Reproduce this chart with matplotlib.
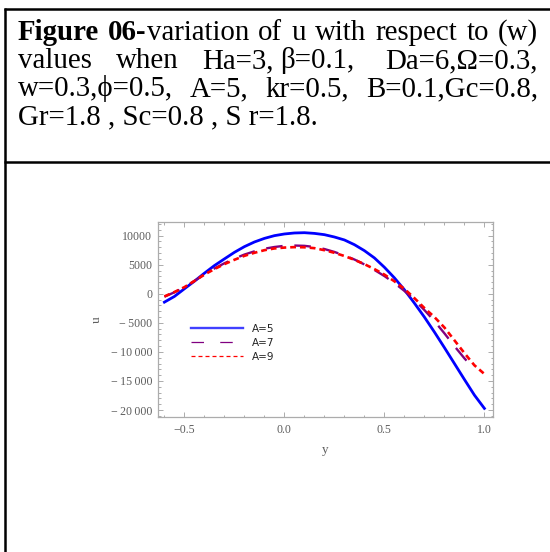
import matplotlib
matplotlib.use('Agg')
import matplotlib.pyplot as plt
from matplotlib.lines import Line2D
from matplotlib.ticker import MultipleLocator, FixedLocator, FixedFormatter

# ---------------- data ----------------
y_vals = [-0.6, -0.55, -0.5, -0.45, -0.4, -0.35, -0.3, -0.25, -0.2, -0.15, -0.1, -0.05,
          0.0, 0.05, 0.1, 0.15, 0.2, 0.25, 0.3, 0.35, 0.4, 0.45, 0.5, 0.55, 0.6, 0.65,
          0.7, 0.75, 0.8, 0.85, 0.9, 0.95, 1.0]
u_A5 = [-1440, -460, 860, 2160, 3540, 4850, 6000, 7130, 8110, 8910, 9530, 10000,
        10290, 10460, 10510, 10390, 10170, 9770, 9260, 8450, 7420, 6170, 4560, 2740, 690, -1610,
        -4010, -6580, -9260, -12000, -14740, -17430, -19720]
# A=7 curve is visible only up to y ~ 0.94
y_vals_A7 = [-0.6, -0.55, -0.5, -0.45, -0.4, -0.35, -0.3, -0.25, -0.2, -0.15, -0.1, -0.05,
             0.0, 0.05, 0.1, 0.15, 0.2, 0.25, 0.3, 0.35, 0.4, 0.45, 0.5, 0.55, 0.6, 0.65,
             0.7, 0.75, 0.8, 0.85, 0.9, 0.94]
u_A7 = [-500, 250, 1100, 2200, 3350, 4350, 5250, 6050, 6750, 7300, 7750, 8050,
        8250, 8300, 8250, 8050, 7700, 7200, 6600, 5900, 5050, 4100, 3050, 1850, 500, -1050,
        -2800, -4700, -6800, -9000, -11100, -12600]
u_A9 = [-460, 300, 1140, 2200, 3300, 4250, 5100, 5850, 6530, 7050, 7500, 7800,
        7950, 8030, 8000, 7850, 7500, 7050, 6500, 5850, 5100, 4250, 3300, 2150, 850, -750,
        -2450, -4000, -5800, -8000, -10200, -12300, -13800]
series_labels = ['A=5', 'A=7', 'A=9']
x_ticks = [-0.5, 0.0, 0.5, 1.0]
x_tick_labels = ['\u22120.5', '0.0', '0.5', '1.0']
y_ticks = [10000, 5000, 0, -5000, -10000, -15000, -20000]
y_tick_labels = ['10000', '5000', '0', '\u2212\u20095000', '\u2212\u200910\u2009000',
                 '\u2212\u200915\u2009000', '\u2212\u200920\u2009000']

caption_lines = [
    [[('Figure', 'bold')], [('06-', 'bold'), ('variation', 'normal')], [('of', 'normal')],
     [('u', 'normal')], [('with', 'normal')], [('respect', 'normal')], [('to', 'normal')],
     [('(w)', 'normal')]],
    [[('values', 'normal')], [('when', 'normal')], [('Ha=3,', 'normal')],
     [('\u03b2=0.1,', 'normal')], [('Da=6,\u03a9=0.3,', 'normal')]],
    [[('w=0.3,\u03d5=0.5,', 'normal')], [('A=5,', 'normal')], [('kr=0.5,', 'normal')],
     [('B=0.1,Gc=0.8,', 'normal')]],
    [[('Gr=1.8 , Sc=0.8 , S r=1.8.', 'normal')]],
]
gap_weights = [None, [1, 1, 0.3, 1.3], None, None]
justify = [True, True, True, False]

# ---------------- figure ----------------
W, H = 550, 552
fig = plt.figure(figsize=(W / 100, H / 100), dpi=100)
fig.patch.set_facecolor('white')

def fx(x):
    return x / W

def fy(y):
    return 1 - y / H

# table borders
border_kw = dict(color='black', lw=1.8, solid_capstyle='butt')
fig.add_artist(Line2D([fx(5), fx(5)], [fy(8), fy(552)], transform=fig.transFigure, **border_kw))
fig.add_artist(Line2D([fx(4), fx(550)], [fy(9), fy(9)], transform=fig.transFigure, **border_kw))
fig.add_artist(Line2D([fx(4), fx(550)], [fy(162), fy(162)], transform=fig.transFigure, **border_kw))

# caption text (justified)
cap_font = ['Liberation Serif', 'DejaVu Serif']
cap_size = 20.8
baselines = [40, 68, 96, 124]
x_left, x_right = 18, 538
renderer = fig.canvas.get_renderer()

def measure(txt, weight):
    t = fig.text(0, 0, txt, fontsize=cap_size, family=cap_font, fontweight=weight)
    w = t.get_window_extent(renderer).width
    t.remove()
    return w

for li, words in enumerate(caption_lines):
    widths = [sum(measure(s, wt) for s, wt in word) for word in words]
    n_gaps = len(words) - 1
    if justify[li] and n_gaps > 0:
        weights = gap_weights[li] or [1] * n_gaps
        free = (x_right - x_left) - sum(widths)
        gaps = [free * w / sum(weights) for w in weights]
    else:
        gaps = [measure(' ', 'normal')] * n_gaps
    x = x_left
    for wi, word in enumerate(words):
        xx = x
        for s, wt in word:
            fig.text(fx(xx), fy(baselines[li]), s, fontsize=cap_size, family=cap_font,
                     fontweight=wt, va='baseline', ha='left', color='black')
            xx += measure(s, wt)
        x += widths[wi]
        if wi < n_gaps:
            x += gaps[wi]

# ---------------- axes ----------------
ax = fig.add_axes([fx(158), fy(417), (493 - 158) / W, (417 - 222) / H])
ax.plot(y_vals, u_A5, color='#0000ff', lw=2.0, label=series_labels[0])
ax.plot(y_vals_A7, u_A7, color='#800080', lw=1.7, dashes=(7, 5), label=series_labels[1])
ax.plot(y_vals, u_A9, color='#ff0000', lw=1.9, dashes=(2.2, 1.5), label=series_labels[2])

ax.set_xlim(-0.632, 1.043)
ax.set_ylim(-21200, 12350)

ax.xaxis.set_major_locator(FixedLocator(x_ticks))
ax.xaxis.set_major_formatter(FixedFormatter(x_tick_labels))
ax.yaxis.set_major_locator(FixedLocator(y_ticks))
ax.yaxis.set_major_formatter(FixedFormatter(y_tick_labels))
ax.xaxis.set_minor_locator(MultipleLocator(0.1))
ax.yaxis.set_minor_locator(MultipleLocator(1000))

frame_col = '#acacac'
label_col = '#5e5e5e'
for sp in ax.spines.values():
    sp.set_color(frame_col)
    sp.set_linewidth(0.9)
ax.tick_params(which='both', direction='in', top=True, right=True, color=frame_col,
               labelcolor=label_col, labelsize=8.6, width=0.7)
ax.tick_params(which='major', length=3.5)
ax.tick_params(which='minor', length=1.8)
ax.tick_params(axis='x', which='major', pad=5)
ax.tick_params(axis='y', which='major', pad=4)
for lab in ax.get_xticklabels() + ax.get_yticklabels():
    lab.set_family(['Liberation Serif', 'DejaVu Serif'])

ax.set_xlabel('y', fontsize=9.5, color=label_col, family='Liberation Serif')
ax.set_ylabel('u', fontsize=9.5, color=label_col, family='Liberation Serif', rotation=90)
ax.xaxis.set_label_coords((325 - 158) / 335, (417 - 444) / 195)
ax.yaxis.set_label_coords((103 - 158) / 335, (417 - 320) / 195)

handles = [
    Line2D([], [], color='#4040ff', lw=1.7),
    Line2D([], [], color='#800080', lw=0.9, dashes=(10, 13)),
    Line2D([], [], color='#ff0000', lw=0.9, dashes=(3.2, 2.4)),
]
leg = ax.legend(handles, series_labels, loc='upper left',
                bbox_to_anchor=((191 - 158) / 335, (417 - 324) / 195),
                frameon=False, borderpad=0, borderaxespad=0, handlelength=5.0,
                handletextpad=0.85, labelspacing=0.36,
                prop={'family': 'DejaVu Sans', 'size': 7.5})
for t in leg.get_texts():
    t.set_color('#222222')

fig.savefig('out.png', dpi=100, facecolor='white')
